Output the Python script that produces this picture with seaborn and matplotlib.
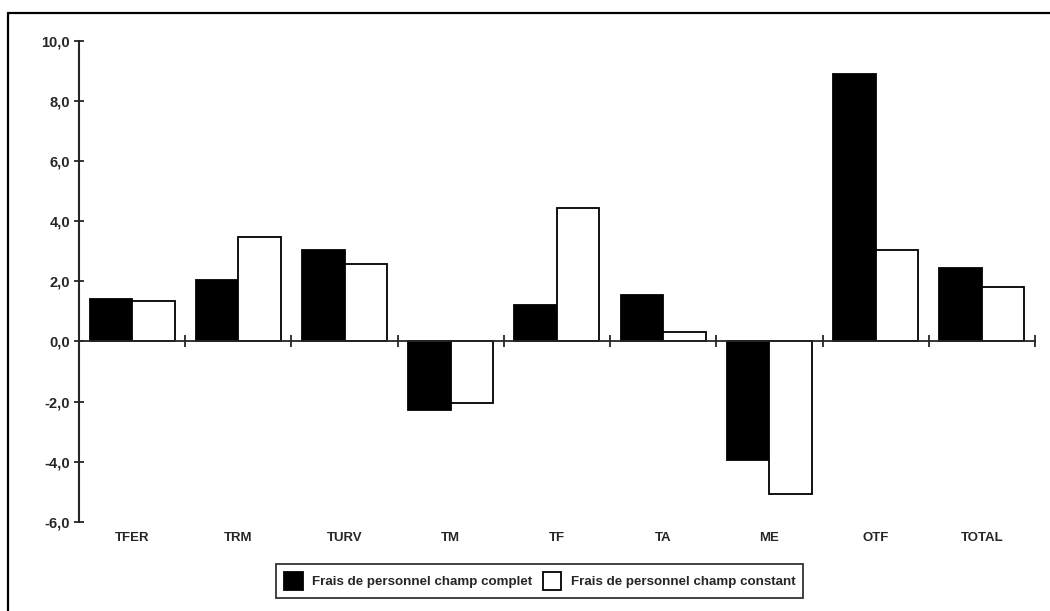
import pandas as pd
import matplotlib.pyplot as plt
import seaborn as sns
from matplotlib.lines import Line2D
from matplotlib.ticker import FuncFormatter

# Données
categories = ['TFER', 'TRM', 'TURV', 'TM', 'TF', 'TA', 'ME', 'OTF', 'TOTAL']
series = ['Frais de personnel champ complet', 'Frais de personnel champ constant']
champ_complet = [1.40, 2.03, 3.05, -2.29, 1.20, 1.55, -3.95, 8.88, 2.45]
champ_constant = [1.33, 3.49, 2.59, -2.03, 4.45, 0.30, -5.08, 3.05, 1.80]
y_ticks = [-6, -4, -2, 0, 2, 4, 6, 8, 10]

df = pd.DataFrame({
    'Catégorie': categories * 2,
    'Série': [series[0]] * len(categories) + [series[1]] * len(categories),
    'Valeur': champ_complet + champ_constant,
})

sns.set_style('white')
plt.rcParams['font.family'] = ['Liberation Sans', 'DejaVu Sans']
plt.rcParams['font.weight'] = 'bold'

fig = plt.figure(figsize=(10.5, 6.11), dpi=100)
ax = fig.add_axes([0.0752, 0.1457, 0.9105, 0.7877])

sns.barplot(data=df, x='Catégorie', y='Valeur', hue='Série', order=categories,
            hue_order=series, palette=['black', 'white'], edgecolor='black',
            linewidth=1.3, width=0.8, saturation=1, ax=ax)

ax.set_xlim(-0.5, len(categories) - 0.5)
ax.set_ylim(-6, 10)
ax.set_xlabel('')
ax.set_ylabel('')

# axe des ordonnées avec virgule décimale
ax.set_yticks(y_ticks)
ax.yaxis.set_major_formatter(FuncFormatter(lambda v, _: f'{v:.1f}'.replace('.', ',')))
ax.tick_params(axis='y', left=True, direction='inout', length=7, width=1.3, pad=3,
               labelsize=10.5)

# axe des abscisses à zéro, graduations entre catégories
ax.spines['top'].set_visible(False)
ax.spines['right'].set_visible(False)
ax.spines['bottom'].set_position(('data', 0))
ax.spines['bottom'].set_linewidth(1.3)
ax.spines['left'].set_linewidth(1.5)
ax.set_xticks([i + 0.5 for i in range(len(categories))])
ax.tick_params(axis='x', bottom=True, direction='inout', length=9, width=1.3,
               labelbottom=False)

# libellés des catégories en bas du graphique
sec = ax.secondary_xaxis(0)
sec.set_xticks(range(len(categories)), labels=categories)
sec.tick_params(length=0, pad=7, labelsize=9.5)
sec.spines['bottom'].set_visible(False)

# légende encadrée sous le graphique
handles, labels = ax.get_legend_handles_labels()
ax.get_legend().remove()
leg = fig.legend(handles, labels, loc='center', bbox_to_anchor=(0.514, 0.049), ncol=2,
                 frameon=True, fancybox=False, edgecolor='black', fontsize=9.6,
                 handlelength=1.4, handleheight=1.7, handletextpad=0.7,
                 columnspacing=0.8, borderpad=0.6)
leg.get_frame().set_linewidth(1.3)

# cadre de la figure (haut et gauche)
fig.add_artist(Line2D([8 / 1050, 8 / 1050], [0, 1 - 13 / 611], transform=fig.transFigure,
                      color='black', lw=1.6))
fig.add_artist(Line2D([8 / 1050, 1], [1 - 13 / 611, 1 - 13 / 611], transform=fig.transFigure,
                      color='black', lw=1.6))

fig.savefig('out.png', dpi=100)
plt.close(fig)
